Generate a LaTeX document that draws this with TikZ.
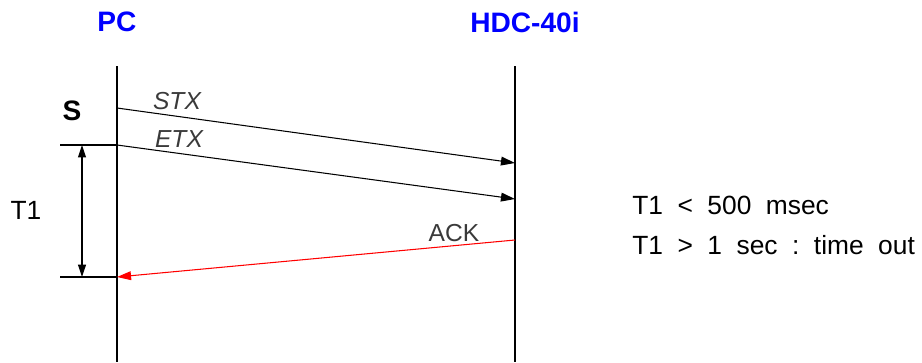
\documentclass[tikz,border=0pt]{standalone}
\usepackage{fontspec}
\setmainfont{Liberation Sans}
\usetikzlibrary{arrows.meta}
\definecolor{HeadBlue}{HTML}{0000FF}
\definecolor{AckRed}{HTML}{FF0000}
\definecolor{MsgGray}{HTML}{3A3A3A}
\newcommand{\wsp}{\hspace{0.55em}}

\begin{document}
\begin{tikzpicture}[>=Triangle, x=0.02cm, y=-0.02cm]
  \tikzstyle{myhead}=[font=\fontsize{16}{18}\selectfont\bfseries, text=HeadBlue]
  \tikzstyle{mylife}=[line width=0.6pt]
  \tikzstyle{mymsg}=[font=\fontsize{14}{16}\selectfont\itshape, text=MsgGray, inner sep=0pt]
  \tikzstyle{mytxt}=[font=\fontsize{15}{18}\selectfont, inner sep=0pt]
  \tikzstyle{myarr}=[-{Triangle[length=8pt,width=5pt]}, line width=0.6pt]
  \tikzstyle{mydim}=[{Triangle[length=7pt,width=4.5pt]}-{Triangle[length=7pt,width=4.5pt]}, line width=0.6pt]
  \useasboundingbox (0,0) rectangle (922,362);
  % lifelines
  \node[myhead] (pc) at (117,22) {PC};
  \node[myhead] (hdc) at (525,22) {HDC-40i};
  \coordinate (pctop) at (117,66);
  \coordinate (pcbot) at (117,362);
  \coordinate (hdctop) at (515,66);
  \coordinate (hdcbot) at (515,362);
  \draw[mylife] (pctop) -- (pcbot);
  \draw[mylife] (hdctop) -- (hdcbot);
  % S : STX, ETX
  \node[font=\fontsize{16}{18}\selectfont\bfseries] (s) at (72,111) {S};
  \coordinate (stxa) at (117,108);
  \coordinate (stxb) at (515,163);
  \draw[myarr] (stxa) -- (stxb);
  \node[mymsg] (stx) at (177,101) {STX};
  \coordinate (etxa) at (117,145);
  \coordinate (etxb) at (515,199);
  \draw[myarr] (etxa) -- (etxb);
  \node[mymsg] (etx) at (179,139) {ETX};
  % ACK
  \coordinate (acka) at (515,240);
  \coordinate (ackb) at (117,277);
  \draw[myarr, AckRed] (acka) -- (ackb);
  \node[mymsg, font=\fontsize{14}{16}\selectfont] (ack) at (454,233) {ACK};
  % T1
  \coordinate (t1a) at (60,145);
  \coordinate (t1b) at (60,277);
  \draw[mylife] (t1a) -- (etxa);
  \draw[mylife] (t1b) -- (ackb);
  \coordinate (dima) at (82,145);
  \coordinate (dimb) at (82,277);
  \draw[mydim] (dima) -- (dimb);
  \node[mytxt] (t1) at (26,210) {T1};
  % timing
  \node[mytxt, anchor=west] (lim) at (632,205) {T1\wsp<\wsp500\wsp msec};
  \node[mytxt, anchor=west] (tout) at (632,245) {T1\wsp>\wsp1\wsp sec\wsp:\wsp time\wsp out};
\end{tikzpicture}
\end{document}
